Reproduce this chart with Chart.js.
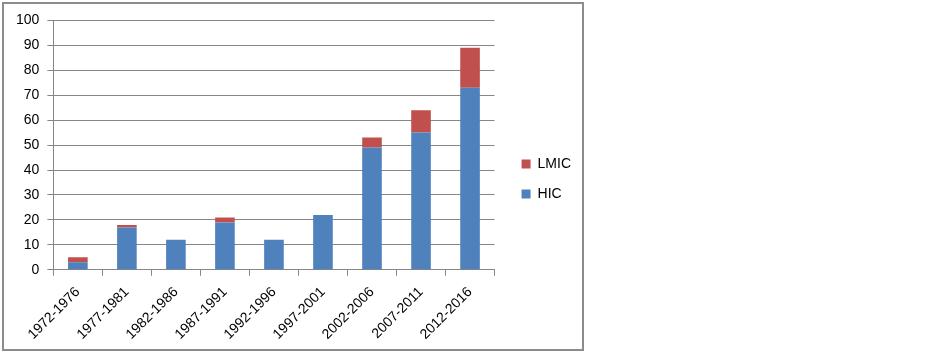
<!DOCTYPE html>
<html>
<head>
<meta charset="utf-8">
<script src="https://cdn.jsdelivr.net/npm/chart.js@4"></script>
<style>
  html, body { margin: 0; padding: 0; background: #fff; }
  #frame { position: absolute; left: 2px; top: 2px; width: 582px; height: 349px; border: 2px solid #8c8c8c; box-sizing: border-box; }
  #c { position: absolute; left: 0; top: 0; }
</style>
</head>
<body>
<div id="frame"><canvas id="c" width="578" height="345"></canvas></div>
<script>
const categories = ["1972-1976","1977-1981","1982-1986","1987-1991","1992-1996","1997-2001","2002-2006","2007-2011","2012-2016"];
const hicValues  = [3, 17, 12, 19, 12, 22, 49, 55, 73];
const lmicValues = [2, 1, 0, 2, 0, 0, 4, 9, 16];
const yTicks = [0,10,20,30,40,50,60,70,80,90,100];

const FONT = "'Liberation Sans', Arial, sans-serif";
const gridColor = '#868686';

const legendNudge = {
  id: 'legendNudge',
  afterLayout(chart) {
    const lg = chart.legend;
    if (lg) { lg.top -= 5; lg.bottom -= 5; }
  }
};

new Chart(document.getElementById('c'), {
  type: 'bar',
  data: {
    labels: categories,
    datasets: [
      { label: 'HIC', data: hicValues, backgroundColor: '#4F81BD', borderWidth: 0 },
      { label: 'LMIC', data: lmicValues, backgroundColor: '#C0504D', borderWidth: 0 }
    ]
  },
  plugins: [legendNudge],
  options: {
    responsive: false,
    animation: false,
    devicePixelRatio: 1,
    layout: { padding: { left: 4, top: 13, right: 1, bottom: -2 } },
    datasets: { bar: { categoryPercentage: 1, barPercentage: 0.4 } },
    plugins: {
      legend: {
        position: 'right',
        reverse: true,
        labels: { boxWidth: 9, boxHeight: 9, padding: 16, color: '#000', font: { family: FONT, size: 14 } }
      },
      tooltip: { enabled: false }
    },
    scales: {
      x: {
        stacked: true,
        grid: { drawOnChartArea: false, drawTicks: true, tickLength: 6, color: gridColor, offset: true },
        border: { color: gridColor, width: 1 },
        ticks: { color: '#000', font: { family: FONT, size: 14 }, minRotation: 45, maxRotation: 45, padding: 8 }
      },
      y: {
        stacked: true,
        min: 0, max: 100,
        afterBuildTicks: (s) => { s.ticks = yTicks.map(v => ({ value: v })); },
        grid: { color: gridColor, lineWidth: 1, tickLength: 6 },
        border: { color: gridColor, width: 1 },
        ticks: { color: '#000', font: { family: FONT, size: 14 }, padding: 8 }
      },
      gap: {
        type: 'linear',
        position: 'right',
        min: 0, max: 100,
        grid: { display: false, drawOnChartArea: false },
        border: { display: false },
        ticks: { display: false },
        afterFit: (s) => { s.width = 11; }
      }
    }
  }
});
</script>
</body>
</html>
